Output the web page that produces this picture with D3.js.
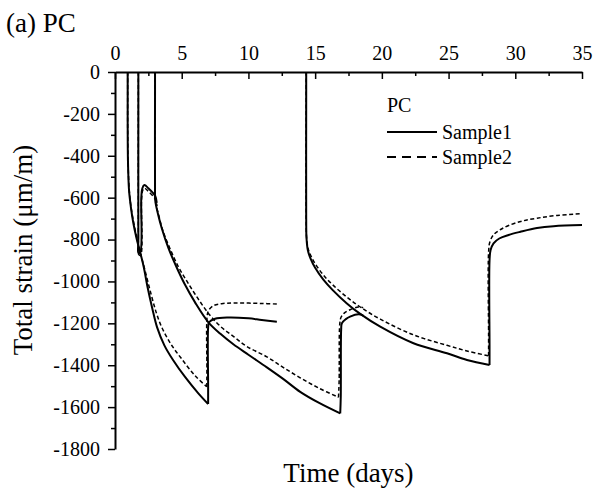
<!DOCTYPE html>
<html>
<head>
<meta charset="utf-8">
<script src="https://cdn.jsdelivr.net/npm/d3@7/dist/d3.min.js"></script>
<style>
  html, body { margin: 0; padding: 0; background: #fff; }
  svg text { font-family: "Liberation Serif", "Times New Roman", "DejaVu Serif", serif !important; fill: #000; }
</style>
</head>
<body>
<svg id="chart" width="594" height="495"></svg>
<script>
// ---- Data (days, strain in µm/m) ----
const xTicks = [0, 5, 10, 15, 20, 25, 30, 35];
const yTicks = [0, -200, -400, -600, -800, -1000, -1200, -1400, -1600, -1800];
const legendTitle = "PC";
const seriesNames = ["Sample1", "Sample2"];

// Sample1 (solid)
const s1_segA = [[0.95,0],[0.95,-100],[0.95,-250],[0.97,-420],[1.05,-563],[1.2,-650],[1.37,-720],[1.6,-790],[1.88,-860],[2.15,-930],[2.45,-1030],[2.8,-1130],[3.15,-1218],[3.7,-1305],[4.35,-1375],[5.25,-1456],[6.23,-1533],[6.98,-1585]];
const s1_segA2 = [[6.98,-1585],[6.98,-1500],[6.98,-1220],[7.05,-1195],[7.5,-1178],[8.5,-1172],[10.0,-1176],[11.0,-1184],[12.13,-1192]];
const s1_segB = [[1.75,0],[1.75,-100],[1.75,-800],[1.76,-865],[1.9,-860],[1.97,-600],[2.05,-555],[2.2,-540],[2.5,-555],[3.0,-590],[3.13,-625]];
const s1_segC = [[3.0,0],[3.0,-100],[3.0,-560],[3.02,-615],[3.25,-685],[3.5,-745],[4.0,-840],[4.6,-930],[5.2,-1010],[6.0,-1100],[7.0,-1195],[7.9,-1250],[8.87,-1300],[10.0,-1350],[11.38,-1410],[12.6,-1465],[13.88,-1527],[15.3,-1580],[16.88,-1630]];
const s1_segE = [[16.88,-1630],[16.92,-1550],[16.95,-1230],[17.0,-1200],[17.3,-1180],[17.62,-1168],[18.25,-1157],[18.6,-1163]];
const s1_segD = [[14.33,0],[14.33,-100],[14.33,-700],[14.35,-790],[14.45,-850],[14.65,-890],[15.0,-935],[15.6,-990],[16.3,-1040],[17.38,-1105],[18.38,-1155],[19.88,-1216],[22.37,-1295],[24.88,-1343],[26.38,-1375],[28.07,-1399]];
const s1_segF = [[28.07,-1399],[28.07,-1300],[28.07,-900],[28.15,-850],[28.37,-818],[28.8,-795],[29.5,-778],[30.38,-763],[31.63,-745],[32.87,-736],[35.0,-731]];

// Sample2 (dashed)
const s2_segA = [[0.95,0],[0.95,-100],[0.95,-260],[0.98,-430],[1.08,-575],[1.25,-665],[1.45,-735],[1.7,-810],[1.97,-880],[2.3,-960],[2.7,-1060],[3.1,-1150],[3.5,-1218],[4.2,-1300],[5.0,-1370],[6.0,-1450],[6.88,-1503]];
const s2_segA2 = [[6.88,-1503],[6.89,-1420],[6.9,-1170],[7.0,-1140],[7.4,-1115],[8.0,-1106],[9.0,-1103],[11.0,-1105],[12.13,-1108]];
const s2_segB = [[1.75,0],[1.75,-100],[1.75,-800],[1.76,-870],[1.92,-875],[1.99,-610],[2.08,-565],[2.22,-555],[2.5,-570],[3.0,-605],[3.15,-640]];
const s2_segC = [[3.0,0],[3.0,-100],[3.0,-560],[3.03,-615],[3.3,-690],[3.6,-760],[4.1,-840],[4.75,-930],[5.4,-1000],[6.2,-1080],[7.1,-1160],[8.0,-1220],[8.87,-1262],[9.87,-1310],[11.38,-1360],[12.6,-1410],[13.88,-1460],[15.3,-1510],[16.75,-1553]];
const s2_segE = [[16.75,-1553],[16.8,-1470],[16.85,-1200],[16.95,-1170],[17.2,-1150],[17.62,-1135],[18.25,-1122],[18.6,-1125]];
const s2_segD = [[14.33,0],[14.33,-100],[14.33,-700],[14.36,-790],[14.48,-845],[14.7,-880],[15.0,-915],[15.6,-968],[16.3,-1015],[17.38,-1075],[18.38,-1122],[19.88,-1180],[22.37,-1255],[24.88,-1305],[26.38,-1332],[28.0,-1355]];
const s2_segF = [[28.0,-1355],[28.0,-1260],[28.0,-860],[28.1,-810],[28.4,-775],[28.9,-752],[29.5,-733],[30.5,-712],[31.63,-698],[33.13,-685],[35.0,-676]];

const sample1 = [s1_segA, s1_segA2, s1_segB, s1_segC, s1_segE, s1_segD, s1_segF];
const sample2 = [s2_segA, s2_segA2, s2_segB, s2_segC, s2_segE, s2_segD, s2_segF];

// ---- Drawing ----
const FONT = "'Liberation Serif', 'Times New Roman', serif";
const svg = d3.select("#chart");
const x = d3.scaleLinear().domain([0, 35]).range([115, 582]);
const y = d3.scaleLinear().domain([0, -1800]).range([72, 449]);

const line = d3.line().x(d => x(d[0])).y(d => y(d[1])).curve(d3.curveCatmullRom.alpha(0.5));

svg.append("g").selectAll("path").data(sample2).join("path")
  .attr("d", line).attr("fill", "none").attr("stroke", "#000")
  .attr("stroke-width", 1.5).attr("stroke-dasharray", "4,2.5");

svg.append("g").selectAll("path").data(sample1).join("path")
  .attr("d", line).attr("fill", "none").attr("stroke", "#000")
  .attr("stroke-width", 2);

// Axes
const xMinor = d3.range(2.5, 35, 5);
const yMinor = d3.range(-100, -1800, -200);

svg.append("g").attr("transform", `translate(0,${y(0)})`)
  .call(d3.axisTop(x).tickValues(xTicks).tickSize(-7).tickSizeOuter(0).tickPadding(12).tickFormat(d3.format("d")));
svg.append("g").attr("transform", `translate(0,${y(0)})`)
  .call(d3.axisTop(x).tickValues(xMinor).tickSize(-4).tickSizeOuter(0).tickFormat(""))
  .select(".domain").remove();

svg.append("g").attr("transform", `translate(${x(0)},0)`)
  .call(d3.axisLeft(y).tickValues(yTicks).tickSize(7).tickSizeOuter(0).tickPadding(8).tickFormat(d => String(d)));
svg.append("g").attr("transform", `translate(${x(0)},0)`)
  .call(d3.axisLeft(y).tickValues(yMinor).tickSize(4).tickSizeOuter(0).tickFormat(""))
  .select(".domain").remove();

svg.selectAll("g").attr("font-family", FONT);
svg.selectAll(".domain").attr("stroke", "#000").attr("stroke-width", 2);
svg.selectAll(".tick line").attr("stroke", "#000").attr("stroke-width", 1.5);
svg.selectAll(".tick text").attr("font-size", 20).style("font-family", FONT).attr("fill", "#000");

// Titles
svg.append("text").attr("x", 6).attr("y", 32).attr("font-size", 27).style("font-family", FONT).text("(a) PC");
svg.append("text").attr("x", x(17.5)).attr("y", 482).attr("text-anchor", "middle").attr("font-size", 27).style("font-family", FONT).text("Time (days)");
svg.append("text").attr("transform", `translate(32,${y(-850)}) rotate(-90)`)
  .attr("text-anchor", "middle").attr("font-size", 27).style("font-family", FONT).text("Total strain (μm/m)");

// Legend
const lg = svg.append("g");
lg.append("text").attr("x", 387).attr("y", 112).attr("font-size", 20).style("font-family", FONT).text(legendTitle);
const dashes = [null, "9,6"];
seriesNames.forEach((name, i) => {
  const yy = 132 + i * 25;
  lg.append("line").attr("x1", 387).attr("x2", 437).attr("y1", yy).attr("y2", yy)
    .attr("stroke", "#000").attr("stroke-width", 2)
    .attr("stroke-dasharray", dashes[i]);
  lg.append("text").attr("x", 442).attr("y", yy + 7).attr("font-size", 20).style("font-family", FONT).text(name);
});
</script>
</body>
</html>
